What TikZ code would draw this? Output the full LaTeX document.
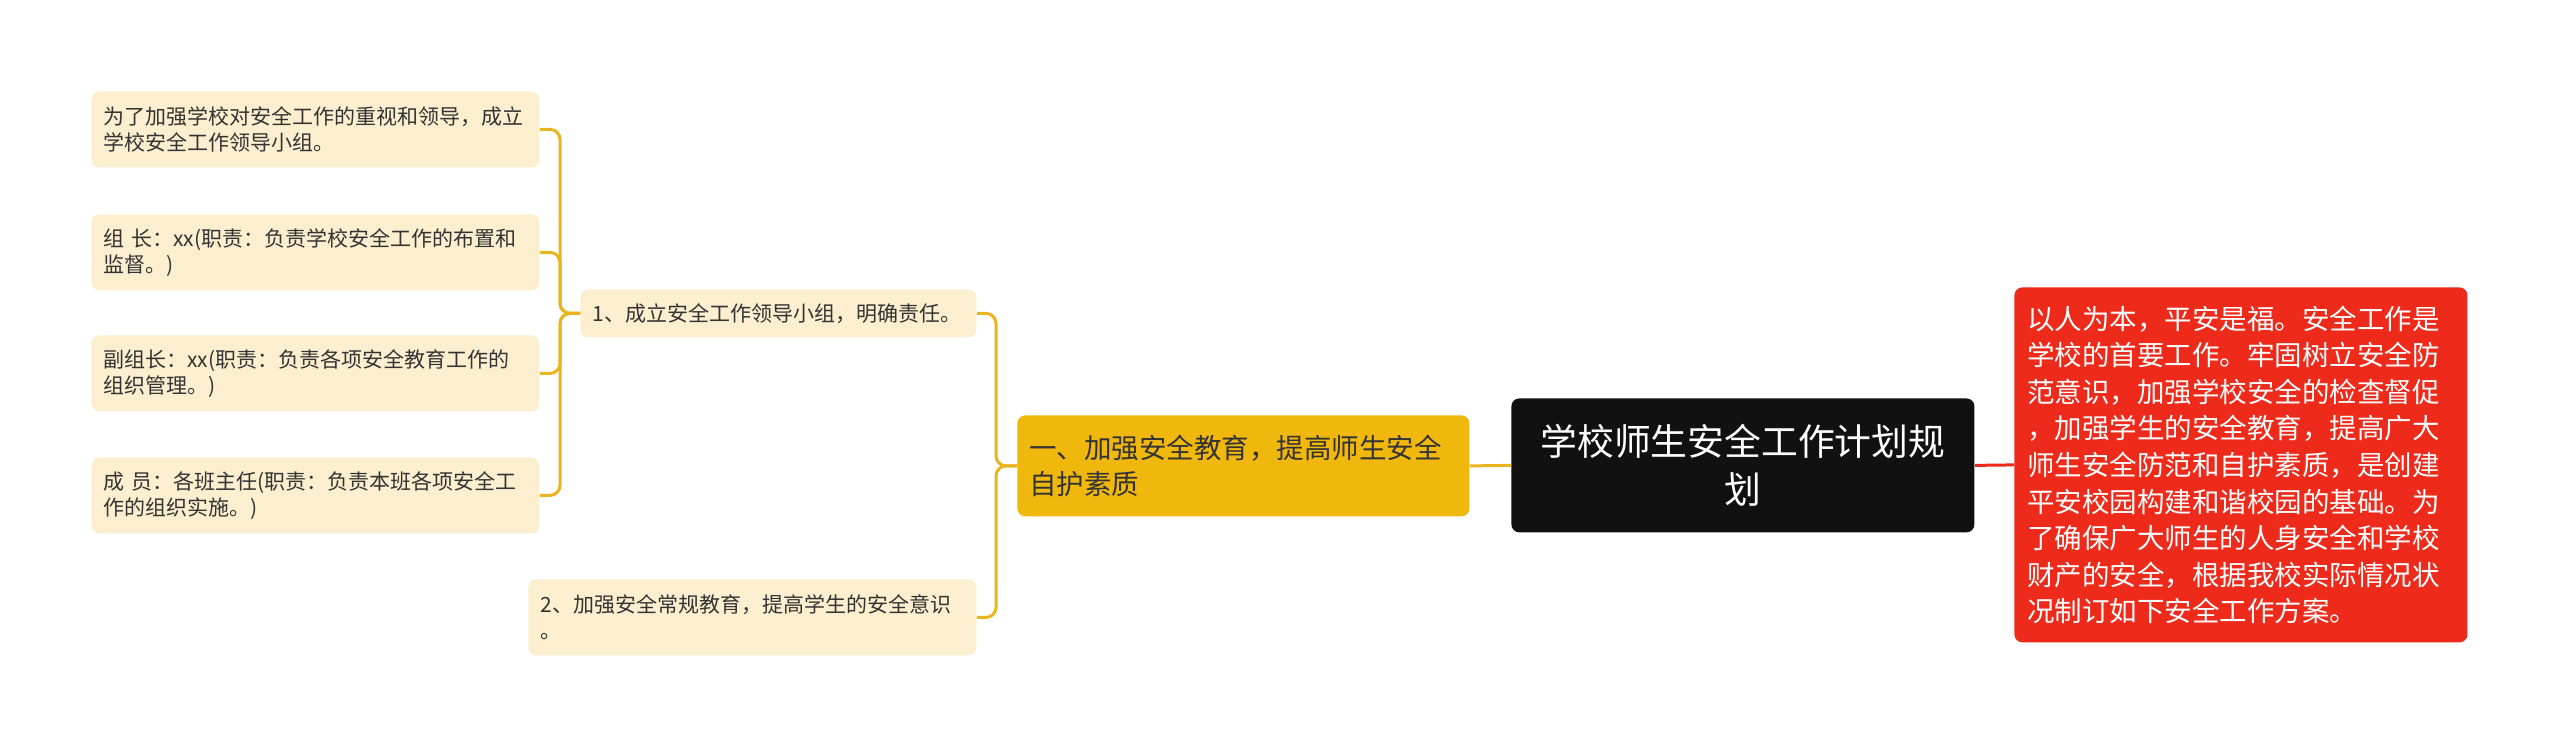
\documentclass[tikz,border=0pt]{standalone}
\usepackage{fontspec}
\setmainfont{Noto Sans CJK SC}
\usetikzlibrary{calc}
\definecolor{leafc}{HTML}{FCEFCF}
\definecolor{connc}{HTML}{EAB41E}
\definecolor{ymain}{HTML}{F0B70C}
\definecolor{rootc}{HTML}{111111}
\definecolor{redc}{HTML}{EE2A1B}
\definecolor{txtc}{HTML}{333333}
\begin{document}
\begin{tikzpicture}[x=0.5pt,y=-0.5pt,
  box/.style={anchor=north west, inner xsep=6pt, inner ysep=0pt, align=left, rounded corners=4pt},
  smallbox/.style={box, fill=leafc, text=txtc, font=\fontsize{10.5pt}{13pt}\selectfont},
  leafbox/.style={smallbox, minimum height=38pt, text width=212pt},
  conn/.style={draw=connc, line width=1.5pt, rounded corners=5pt},
]
\useasboundingbox[fill=white] (0,0) rectangle (2560,747);

% leaves
\node[leafbox] (l1) at (91,91) {为了加强学校对安全工作的重视和领导，成立\\学校安全工作领导小组。};
\node[leafbox] (l2) at (91,214) {组 长：xx(职责：负责学校安全工作的布置和\\监督。)};
\node[leafbox] (l3) at (91,335) {副组长：xx(职责：负责各项安全教育工作的\\组织管理。)};
\node[leafbox] (l4) at (91,457) {成 员：各班主任(职责：负责本班各项安全工\\作的组织实施。)};

% second level
\node[smallbox, minimum height=24pt, text width=186pt] (n1) at (580,289) {1、成立安全工作领导小组，明确责任。};
\node[smallbox, minimum height=38pt, text width=212pt] (n2) at (528,579) {2、加强安全常规教育，提高学生的安全意识\\。};

% main branch
\node[box, fill=ymain, text=txtc, minimum height=50.5pt, text width=214pt,
  font=\fontsize{13.75pt}{18pt}\selectfont] (ym) at (1017,415) {一、加强安全教育，提高师生安全\\自护素质};

% root
\node[box, fill=rootc, text=white, minimum height=67pt, text width=219.5pt, align=center,
  font=\fontsize{18.4pt}{24pt}\selectfont] (root) at (1511,398) {学校师生安全工作计划规\\划};

% red note
\node[box, fill=redc, text=white, minimum height=177.5pt, inner xsep=6.5pt, text width=213.5pt,
  font=\fontsize{13.75pt}{18.3pt}\selectfont] (red) at (2014,287) {以人为本，平安是福。安全工作是\\学校的首要工作。牢固树立安全防\\范意识，加强学校安全的检查督促\\，加强学生的安全教育，提高广大\\师生安全防范和自护素质，是创建\\平安校园构建和谐校园的基础。为\\了确保广大师生的人身安全和学校\\财产的安全，根据我校实际情况状\\况制订如下安全工作方案。};

% connectors
\foreach \l in {l1,l2,l3,l4}
  \draw[conn] (n1.west) -- ++(-10pt,0pt) |- (\l.east);
\draw[conn] (ym.west) -- ++(-10.5pt,0pt) |- (n1.east);
\draw[conn] (ym.west) -- ++(-10.5pt,0pt) |- (n2.east);
\draw[draw=connc, line width=1.5pt] (ym.east) -- (root.west);
\draw[draw=redc, line width=1.5pt] (root.east) -- (red.west);
\end{tikzpicture}
\end{document}
